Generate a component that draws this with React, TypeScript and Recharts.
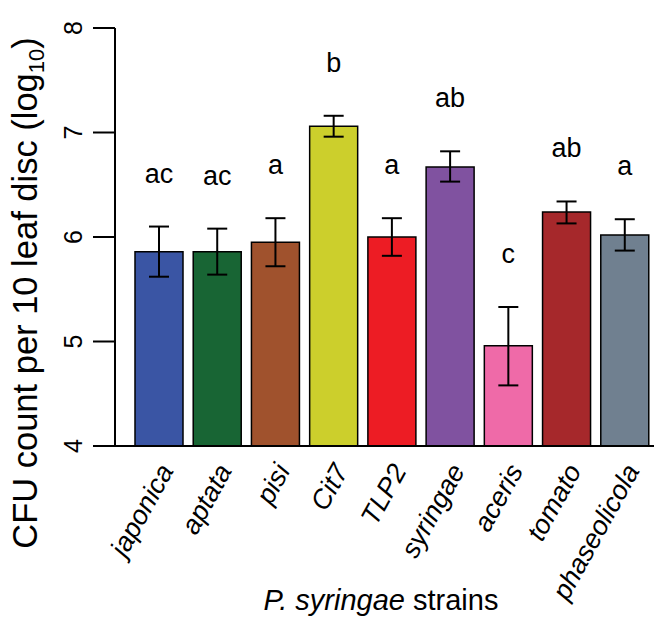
import React from 'react';
import { BarChart, Bar, XAxis, YAxis, ErrorBar, Cell, LabelList, Customized } from 'recharts';

const strains = ['japonica', 'aptata', 'pisi', 'Cit7', 'TLP2', 'syringae', 'aceris', 'tomato', 'phaseolicola'];
const means = [5.86, 5.86, 5.95, 7.06, 6.0, 6.67, 4.96, 6.24, 6.02];
const errLow = [5.62, 5.64, 5.72, 6.96, 5.82, 6.53, 4.58, 6.13, 5.87];
const errHigh = [6.1, 6.08, 6.18, 7.16, 6.18, 6.82, 5.33, 6.34, 6.17];
const letters = ['ac', 'ac', 'a', 'b', 'a', 'ab', 'c', 'ab', 'a'];
const colors = ['#3a55a4', '#186534', '#a0522d', '#cccf2c', '#ed1c24', '#8052a0', '#ef6aa8', '#a6282b', '#708090'];
const yTicks = [4, 5, 6, 7, 8];

const data = strains.map((s, i) => ({
  strain: s,
  mean: means[i],
  err: [means[i] - errLow[i], errHigh[i] - means[i]],
  letter: letters[i],
}));

const FONT = '"Liberation Sans", Arial, Helvetica, sans-serif';

const XTick = (props: any) => {
  const { x, y, payload } = props;
  return (
    <text
      transform={`translate(${x + 7},${y + 12}) rotate(-61)`}
      textAnchor="end"
      fontFamily={FONT}
      fontStyle="italic"
      fontSize={27}
      fill="#000"
      dy="0.35em"
    >
      {payload.value}
    </text>
  );
};

const YTick = (props: any) => {
  const { y, payload } = props;
  return (
    <text
      transform={`translate(82,${y}) rotate(-90)`}
      textAnchor="middle"
      fontFamily={FONT}
      fontSize={25}
      fill="#000"
    >
      {payload.value}
    </text>
  );
};

const LetterLabel = (props: any) => {
  const { x, y, width, height, index, value } = props;
  const m = means[index];
  const ppu = height / (m - 4);
  const top = y - (errHigh[index] - m) * ppu;
  return (
    <text x={x + width / 2} y={top - 44} textAnchor="middle" fontFamily={FONT} fontSize={27} fill="#000">
      {value}
    </text>
  );
};

const Titles = () => (
  <g>
    <text x={381} y={610} textAnchor="middle" fontFamily={FONT} fontSize={29} fill="#000">
      <tspan fontStyle="italic">P. syringae</tspan>
      <tspan> strains</tspan>
    </text>
    <text
      transform="translate(37,293) rotate(-90)"
      textAnchor="middle"
      fontFamily={FONT}
      fontSize={34.5}
      fill="#000"
    >
      CFU count per 10 leaf disc (log
      <tspan fontSize={22} dy={7}>10</tspan>
      <tspan dy={-7}>)</tspan>
    </text>
  </g>
);

export default function App() {
  return (
    <div style={{ position: 'absolute', left: 0, top: 0, width: 666, height: 623, background: '#fff' }}>
      <BarChart
        width={666}
        height={623}
        data={data}
        margin={{ top: 28, right: 12, bottom: 0, left: 0 }}
        barSize={48}
      >
        <XAxis
          dataKey="strain"
          type="category"
          interval={0}
          height={177}
          padding={{ left: 15, right: 0 }}
          axisLine={{ stroke: '#000', strokeWidth: 2 }}
          tickLine={false}
          tick={<XTick />}
        />
        <YAxis
          type="number"
          domain={[4, 8]}
          ticks={yTicks}
          width={115}
          interval={0}
          allowDataOverflow
          axisLine={{ stroke: '#000', strokeWidth: 2 }}
          tickLine={{ stroke: '#000', strokeWidth: 2 }}
          tickSize={22}
          tick={<YTick />}
        />
        <Bar dataKey="mean" stroke="#000" strokeWidth={1.5} isAnimationActive={false}>
          {data.map((d, i) => (
            <Cell key={d.strain} fill={colors[i]} />
          ))}
          <ErrorBar dataKey="err" width={10} stroke="#000" strokeWidth={2} isAnimationActive={false} />
          <LabelList dataKey="letter" content={<LetterLabel />} />
        </Bar>
        <Customized component={Titles} />
      </BarChart>
    </div>
  );
}
